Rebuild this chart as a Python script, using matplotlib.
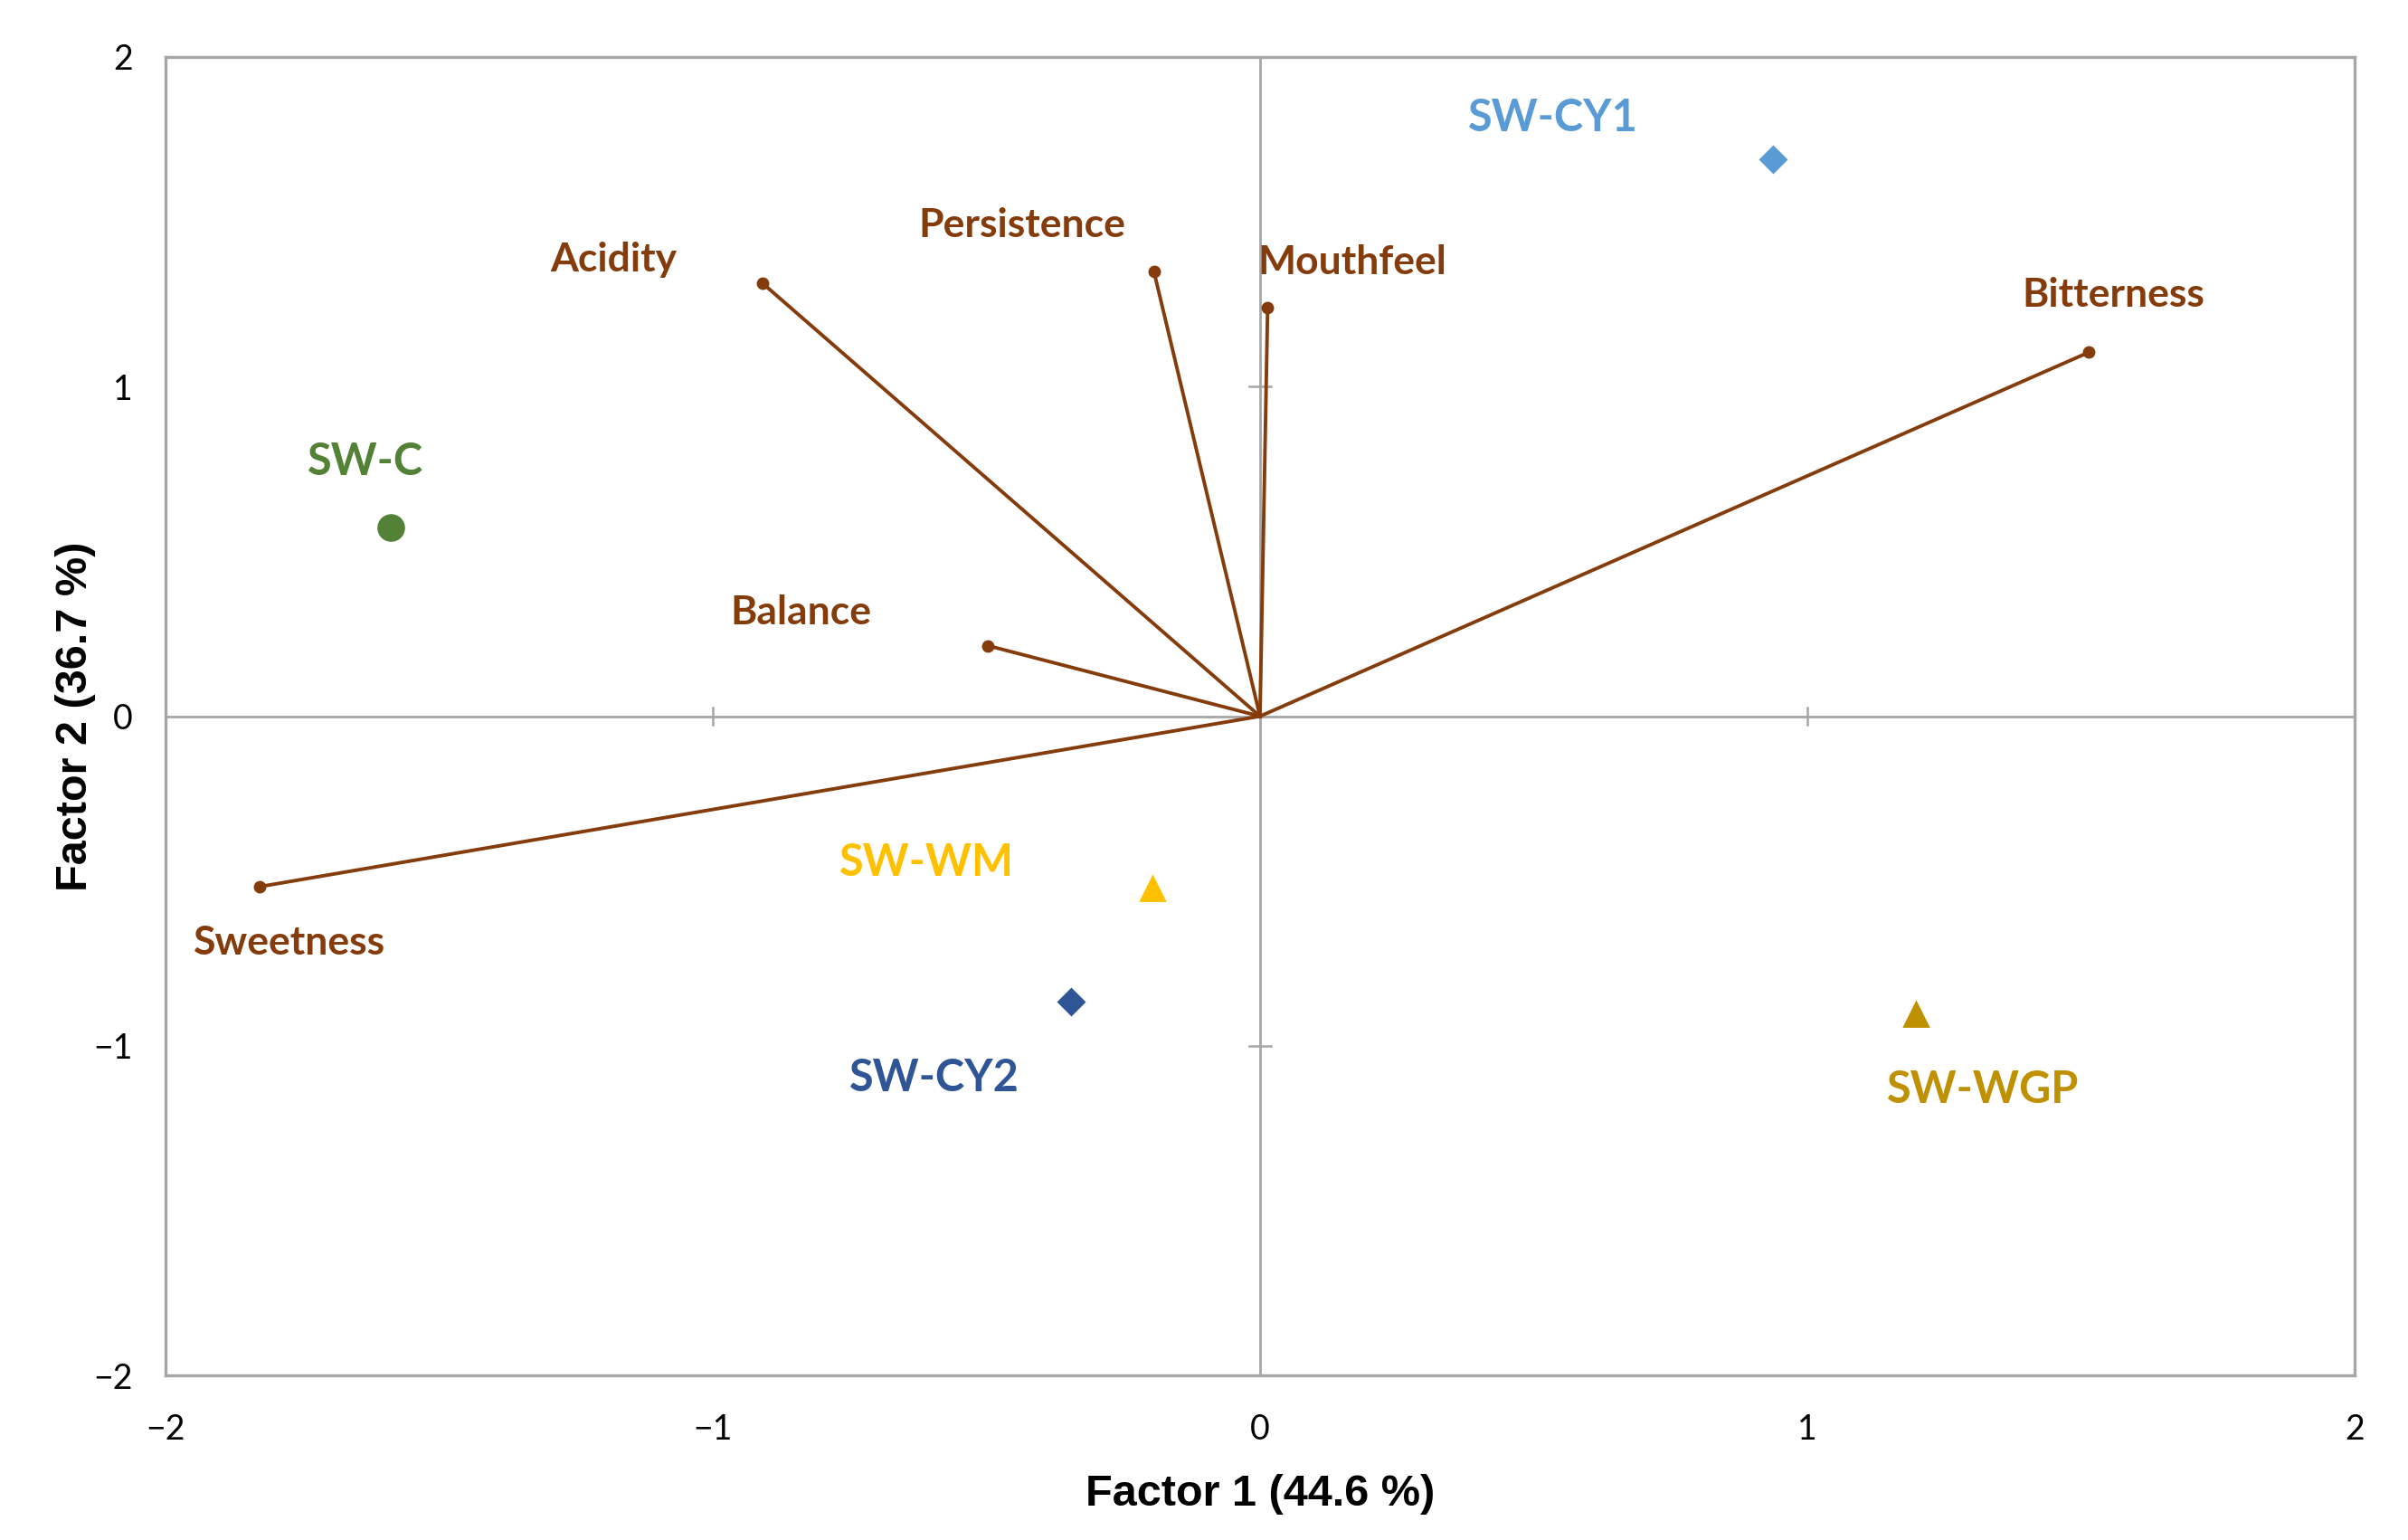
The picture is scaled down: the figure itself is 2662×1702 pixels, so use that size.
import matplotlib
matplotlib.use('Agg')
import matplotlib.pyplot as plt
from matplotlib import font_manager

# Variáveis (cargas)
variaveis = ['Acidity', 'Persistence', 'Mouthfeel', 'Bitterness', 'Balance', 'Sweetness']
var_f1 = [-0.909, -0.194, 0.014, 1.515, -0.497, -1.829]
var_f2 = [1.313, 1.350, 1.239, 1.104, 0.214, -0.517]
var_lab_x = [-1.181, -0.435, 0.168, 1.560, -0.839, -1.773]
var_lab_y = [1.385, 1.488, 1.376, 1.278, 0.314, -0.687]

# Amostras (scores)
amostras = ['SW-C', 'SW-CY1', 'SW-WM', 'SW-CY2', 'SW-WGP']
am_f1 = [-1.588, 0.937, -0.196, -0.345, 1.198]
am_f2 = [0.573, 1.690, -0.522, -0.866, -0.903]
am_lab_x = [-1.635, 0.536, -0.609, -0.595, 1.321]
am_lab_y = [0.771, 1.814, -0.445, -1.097, -1.134]
am_cores = ['#538135', '#5B9BD5', '#FFC000', '#2F5597', '#BF9000']
am_marc = ['o', 'D', '^', 'D', '^']
am_tam = [10, 7, 9.5, 7, 9.5]

ticks = [-2, -1, 0, 1, 2]
marrom = '#843C0C'

nomes = {f.name for f in font_manager.fontManager.ttflist}
fonte_rot = 'Lato' if 'Lato' in nomes else 'DejaVu Sans'
fonte_tick = 'Liberation Sans Narrow' if 'Liberation Sans Narrow' in nomes else fonte_rot
fonte_eixo = 'Liberation Sans' if 'Liberation Sans' in nomes else 'DejaVu Sans'

fig = plt.figure(figsize=(13.31, 8.51), dpi=200)
ax = fig.add_axes([0.0688, 0.1067, 0.9089, 0.8564])
ax.set_xlim(-2, 2)
ax.set_ylim(-2, 2)

# Eixos centrais
ax.axhline(0, color='#A6A6A6', lw=1.0, zorder=1)
ax.axvline(0, color='#A6A6A6', lw=1.0, zorder=1)
for t in [-1, 1]:
    ax.plot([t, t], [-0.025, 0.025], color='#A6A6A6', lw=0.9, zorder=1)
    ax.plot([-0.02, 0.02], [t, t], color='#A6A6A6', lw=0.9, zorder=1)

# Vetores das variáveis
for nome, x, y, lx, ly in zip(variaveis, var_f1, var_f2, var_lab_x, var_lab_y):
    ax.plot([0, x], [0, y], color=marrom, lw=1.4, zorder=2)
    ax.plot(x, y, 'o', color=marrom, ms=4, zorder=3)
    ax.text(lx, ly, nome, color=marrom, fontsize=16, fontweight='bold',
            family=fonte_rot, ha='center', va='center')

# Amostras
for nome, x, y, lx, ly, c, m, s in zip(amostras, am_f1, am_f2, am_lab_x, am_lab_y,
                                       am_cores, am_marc, am_tam):
    ax.plot(x, y, marker=m, color=c, ms=s, ls='none', zorder=4)
    ax.text(lx, ly, nome, color=c, fontsize=17.5, fontweight='bold',
            family=fonte_rot, ha='center', va='center')

ax.set_xticks(ticks)
ax.set_yticks(ticks)
ax.set_xticklabels(['\u22122', '\u22121', '0', '1', '2'], family=fonte_tick, fontsize=13.5)
ax.set_yticklabels(['\u22122', '\u22121', '0', '1', '2'], family=fonte_tick, fontsize=13.5)
ax.tick_params(axis='x', length=0, pad=15)
ax.tick_params(axis='y', length=0, pad=13)
for sp in ax.spines.values():
    sp.set_color('#A6A6A6')
    sp.set_linewidth(1.2)

ax.set_xlabel('Factor 1 (44.6 %)', family=fonte_eixo, fontweight='bold', fontsize=17.5, labelpad=11)
ax.set_ylabel('Factor 2 (36.7 %)', family=fonte_eixo, fontweight='bold', fontsize=17.5, labelpad=-1)

fig.savefig('out.png', dpi=200, facecolor='white')
